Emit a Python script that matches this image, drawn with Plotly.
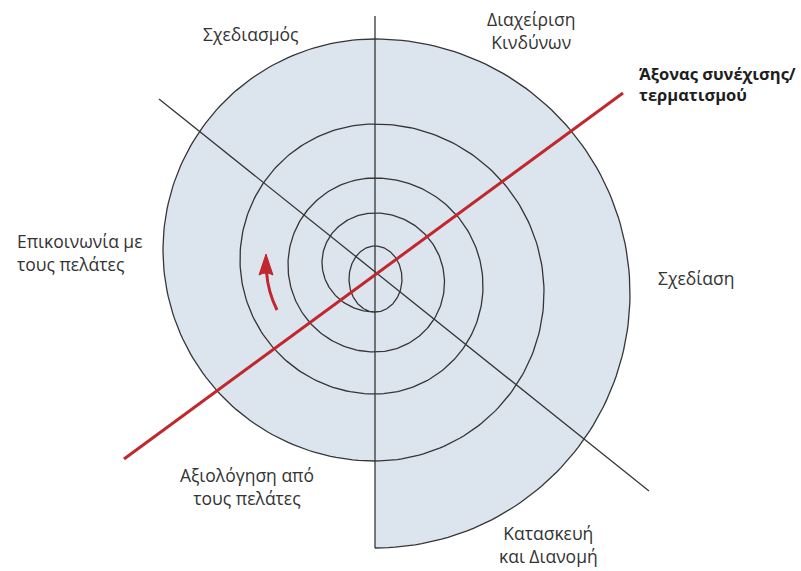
import numpy as np
import plotly.graph_objects as go

# ---- diagram geometry (pixel space, y grows downward) ----
axis_x = 375
# spiral half-loops, inner -> outer: (side, start_y, end_y, horizontal radius)
arc_side = ["L", "R", "L", "R", "L", "R", "L", "R", "L", "R"]
arc_start = [312, 246, 312, 213, 352, 178, 394, 124, 461, 39]
arc_end = [246, 312, 213, 352, 178, 394, 124, 461, 39, 548]
arc_rx = [26, 27, 53, 69.5, 87, 108, 135, 169, 212, 255]

vertical_line_y = [16, 548]
black_diag_x = [159, 649]
black_diag_y = [99, 491]
red_axis_x = [124, 623]
red_axis_y = [459, 93]

labels = ["Σχεδιασμός", "Διαχείριση<br>Κινδύνων", "<b>Άξονας συνέχισης/<br>τερματισμού</b>",
          "Επικοινωνία με<br>τους πελάτες", "Σχεδίαση", "Αξιολόγηση από<br>τους πελάτες",
          "Κατασκευή<br>και Διανομή"]
label_x = [250, 531, 637, 15, 696, 247, 548]
label_y = [34, 30, 84, 252, 278, 486, 544]
label_align = ["center", "center", "left", "left", "center", "center", "center"]
label_size = [17.5, 17.5, 16.5, 17.5, 17.5, 17.5, 17.5]

LINE = "#363636"
RED = "#c1272d"
FILL = "#dce4ee"


def arc_points(side, y0, y1, rx, n=120):
    c = (y0 + y1) / 2.0
    ry = abs(y1 - y0) / 2.0
    t = np.linspace(0, np.pi, n)
    if side == "R":  # top -> bottom, bulging right
        x = axis_x + rx * np.sin(t)
        y = c - ry * np.cos(t)
    else:  # bottom -> top, bulging left
        x = axis_x - rx * np.sin(t)
        y = c + ry * np.cos(t)
    return x, y


fig = go.Figure()

# shaded outer region: last left + last right half-loops closed by the axis
xl, yl = arc_points(arc_side[-2], arc_start[-2], arc_end[-2], arc_rx[-2])
xr, yr = arc_points(arc_side[-1], arc_start[-1], arc_end[-1], arc_rx[-1])
fx = np.concatenate([xl, xr, [axis_x]])
fy = np.concatenate([yl, yr, [arc_start[-2]]])
fig.add_trace(go.Scatter(x=fx, y=fy, mode="lines", fill="toself", fillcolor=FILL,
                         line=dict(width=0), hoverinfo="skip", showlegend=False))

# spiral
sx, sy = [], []
for s, a, b, r in zip(arc_side, arc_start, arc_end, arc_rx):
    x, y = arc_points(s, a, b, r)
    sx.extend(list(x))
    sy.extend(list(y))
fig.add_trace(go.Scatter(x=sx, y=sy, mode="lines", line=dict(color=LINE, width=1.3),
                         hoverinfo="skip", showlegend=False))

# vertical axis
fig.add_trace(go.Scatter(x=[axis_x, axis_x], y=vertical_line_y, mode="lines",
                         line=dict(color=LINE, width=1.3), hoverinfo="skip", showlegend=False))
# black diagonal
fig.add_trace(go.Scatter(x=black_diag_x, y=black_diag_y, mode="lines",
                         line=dict(color=LINE, width=1.3), hoverinfo="skip", showlegend=False))
# red axis
fig.add_trace(go.Scatter(x=red_axis_x, y=red_axis_y, mode="lines",
                         line=dict(color=RED, width=3), hoverinfo="skip", showlegend=False))

# curved arrow (shaft + head)
fig.add_shape(type="path", path="M 277,310 Q 268,292 266.5,272",
              line=dict(color=RED, width=3), layer="above")
fig.add_shape(type="path", path="M 259,275 L 266,254 L 273,275 Q 266,271 259,275 Z",
              line=dict(color=RED, width=1), fillcolor=RED, layer="above")

for t, x, y, al, fs in zip(labels, label_x, label_y, label_align, label_size):
    fig.add_annotation(x=x, y=y, text=t, showarrow=False, align=al,
                       xanchor="left" if al == "left" else "center", yanchor="middle",
                       font=dict(family="Open Sans", size=fs,
                                 color="#1e1e1e" if "<b>" in t else "#333333"))

fig.update_layout(
    width=801, height=571, margin=dict(l=0, r=0, t=0, b=0),
    paper_bgcolor="white", plot_bgcolor="white",
    xaxis=dict(range=[0, 801], visible=False, fixedrange=True),
    yaxis=dict(range=[571, 0], visible=False, fixedrange=True),
    showlegend=False,
)

fig.write_html("out.html", config={"displayModeBar": False},
               post_script="document.body.style.margin='0';document.body.style.overflow='hidden';")
